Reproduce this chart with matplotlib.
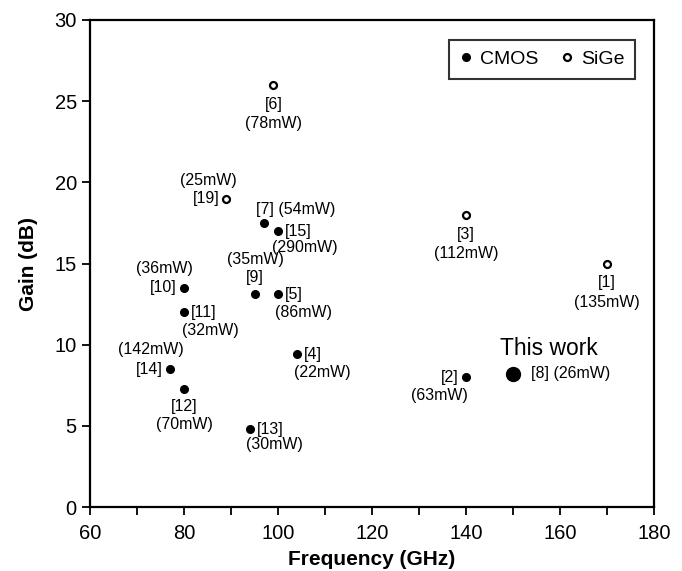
import matplotlib.pyplot as plt

plt.rcParams['font.family'] = ['Liberation Sans', 'DejaVu Sans']

# CMOS designs (frequency GHz, gain dB)
cmos_refs = ["[7]", "[15]", "[10]", "[9]", "[5]", "[11]", "[14]", "[4]", "[12]", "[13]", "[2]"]
cmos_power = ["(54mW)", "(290mW)", "(36mW)", "(35mW)", "(86mW)", "(32mW)", "(142mW)",
              "(22mW)", "(70mW)", "(30mW)", "(63mW)"]
cmos_freq = [97, 100, 80, 95, 100, 80, 77, 104, 80, 94, 140]
cmos_gain = [17.5, 17.0, 13.5, 13.1, 13.1, 12.0, 8.5, 9.4, 7.3, 4.8, 8.0]

# SiGe designs
sige_refs = ["[6]", "[19]", "[3]", "[1]"]
sige_power = ["(78mW)", "(25mW)", "(112mW)", "(135mW)"]
sige_freq = [99, 89, 140, 170]
sige_gain = [26, 19, 18, 15]

# this work
tw_freq = [150]
tw_gain = [8.2]

fig = plt.figure(figsize=(6.82, 5.71), dpi=100)
ax = fig.add_axes([0.132, 0.112, 0.827, 0.853])

ax.plot(cmos_freq, cmos_gain, 'o', color='black', ms=5.5, label='CMOS', zorder=3)
ax.plot(sige_freq, sige_gain, 'o', mfc='white', mec='black', mew=1.6, ms=5, label='SiGe', zorder=3)
ax.plot(tw_freq, tw_gain, 'o', color='black', ms=10, zorder=3)

fs = 11.5
def lab(x, y, s, dx, dy, ha='center', va='center', size=fs):
    ax.annotate(s, (x, y), xytext=(dx, dy), textcoords='offset points',
                ha=ha, va=va, fontsize=size)

# label placement: (ref offset, power offset) per point, in points
cmos_lay = [
    ((-6, 10, 'left'), None),                   # [7]  -> one line "[7] (54mW)"
    ((5, 0, 'left'), (19.5, -12, 'center')),    # [15]
    ((-5, 0, 'right'), (-14, 14, 'center')),    # [10]
    ((0, 12, 'center'), (1, 25, 'center')),     # [9]
    ((5, 0, 'left'), (18, -13, 'center')),      # [5]
    ((5, 0, 'left'), (19, -13, 'center')),      # [11]
    ((-5, 0, 'right'), (-14, 14, 'center')),    # [14]
    ((5, 0, 'left'), (18, -13, 'center')),      # [4]
    ((0, -13, 'center'), (0, -26, 'center')),   # [12]
    ((5, 0, 'left'), (18, -11, 'center')),      # [13]
    ((-5, 0, 'right'), (-19, -13, 'center')),   # [2]
]
for x, y, r, p, (lr, lp) in zip(cmos_freq, cmos_gain, cmos_refs, cmos_power, cmos_lay):
    if lp is None:
        lab(x, y, r + " " + p, lr[0], lr[1], ha=lr[2])
    else:
        lab(x, y, r, lr[0], lr[1], ha=lr[2])
        lab(x, y, p, lp[0], lp[1], ha=lp[2])

sige_lay = [
    ((0, -14, 'center'), (0, -28, 'center')),  # [6]
    ((-5, 0, 'right'), (-13, 13, 'center')),   # [19]
    ((0, -14, 'center'), (0, -28, 'center')),  # [3]
    ((0, -14, 'center'), (0, -28, 'center')),  # [1]
]
for x, y, r, p, (lr, lp) in zip(sige_freq, sige_gain, sige_refs, sige_power, sige_lay):
    lab(x, y, r, lr[0], lr[1], ha=lr[2])
    lab(x, y, p, lp[0], lp[1], ha=lp[2])

lab(tw_freq[0], tw_gain[0], "This work", -9.5, 18, ha='left', size=16.5)
lab(tw_freq[0], tw_gain[0], "[8] (26mW)", 13, 0, ha='left')

ax.set_xlim(60, 180)
ax.set_ylim(0, 30)
ax.set_xticks(range(60, 181, 20))
ax.set_xticks(range(60, 181, 10), minor=True)
ax.set_yticks(range(0, 31, 5))
ax.tick_params(which='both', direction='out', width=1.3, labelsize=14.5, length=6)
ax.tick_params(axis='x', pad=6)
for sp in ax.spines.values():
    sp.set_linewidth(1.6)

ax.set_xlabel('Frequency (GHz)', fontsize=15, fontweight='bold', labelpad=5)
ax.set_ylabel('Gain (dB)', fontsize=15, fontweight='bold', labelpad=12)

leg = ax.legend(loc='upper right', ncol=2, fontsize=14, frameon=True, fancybox=False,
                handlelength=0.6, handletextpad=0.4, columnspacing=1.2,
                borderpad=0.55, borderaxespad=0, bbox_to_anchor=(0.966, 0.959))
leg.get_frame().set_edgecolor('black')
leg.get_frame().set_linewidth(1.5)

fig.savefig('out.png', dpi=100)
